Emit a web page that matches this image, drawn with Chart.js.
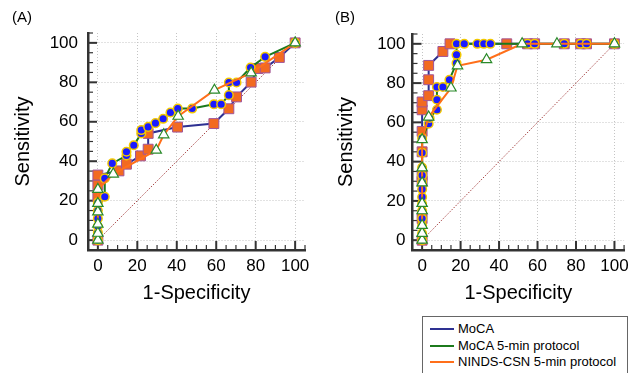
<!DOCTYPE html>
<html>
<head>
<meta charset="utf-8">
<script src="https://cdn.jsdelivr.net/npm/chart.js@4/dist/chart.umd.min.js"></script>
<style>
  body { margin: 0; width: 635px; height: 373px; background: #fff; position: relative; overflow: hidden;
         font-family: "Liberation Sans", Arial, sans-serif; }
  canvas { position: absolute; top: 0; }
  .plab { position: absolute; font-size: 15px; line-height: 15px; color: #000; }
  #legend { position: absolute; left: 422px; top: 316px; width: 206px; height: 64px;
            border: 1px solid #666; box-sizing: border-box; }
  .row { position: absolute; left: 0; height: 16px; font-size: 13px; line-height: 16px; }
  .row i { position: absolute; left: 7px; top: 7px; width: 24px; height: 2px; }
  .row span { position: absolute; left: 35px; top: 0; white-space: nowrap; }
</style>
</head>
<body>
<canvas id="chartA" width="320" height="310" style="left:0"></canvas>
<canvas id="chartB" width="315" height="310" style="left:320px"></canvas>
<div class="plab" style="left:12px;top:9px">(A)</div>
<div class="plab" style="left:335px;top:9px">(B)</div>
<div id="legend"></div>
<script>
// (A) - 1-Specificity (x) and Sensitivity (y), in %
const mocaA_x = [0, 0, 0, 0, 10.7, 14.5, 21.6, 25.5, 25.5, 40.4, 58.8, 66.4, 70.3, 77.7, 81.1, 84.8, 92.0, 100];
const mocaA_y = [0, 22, 28, 33, 35.1, 38.5, 42.7, 46.1, 54.1, 57.3, 59.1, 66.6, 72.6, 80.1, 87.0, 87.3, 92.6, 100];
const moca5A_x = [0, 0, 0, 0, 0, 0, 3.5, 3.5, 7.3, 14.5, 14.5, 18.2, 22, 22, 25.5, 29.2, 33.1, 36.8, 40.5, 47.8, 58.8, 62.5, 66.4, 66.4, 70.3, 77.4, 84.8, 100];
const moca5A_y = [0, 4, 7, 11, 15, 19, 22, 31.3, 38.9, 42.9, 44.8, 48.1, 54.1, 55.8, 57.4, 59.3, 61.5, 64.7, 66.7, 66.7, 68.9, 68.9, 73.5, 79.9, 79.9, 87.5, 92.9, 100];
const nindsA_x = [0, 0, 0, 0, 0, 0, 7.8, 29.6, 33.4, 40.7, 59.1, 77.7, 100];
const nindsA_y = [0, 3.5, 8.1, 14.3, 18.6, 25.7, 33.5, 45.6, 53.4, 62.8, 76, 84.8, 100];

// (B)
const mocaB_x = [0, 0, 0, 0, 0, 0, 0, 0, 3.4, 3.4, 3.4, 10.8, 14.5, 44, 54.8, 58.5, 73.9, 82.4, 85.5, 100];
const mocaB_y = [0, 11, 30, 33, 45, 55.4, 66.4, 70.4, 73.6, 81.7, 89, 96.1, 100, 100, 100, 100, 100, 100, 100, 100];
const moca5B_x = [0, 0, 0, 0, 0, 0, 0, 0, 0, 0, 0, 0, 0, 3.4, 3.9, 7.7, 7.7, 7.7, 10.8, 14.2, 17.9, 17.9, 17.9, 21.9, 28.7, 32.1, 35.5, 54.8, 58.5, 73.9, 82.4, 85.5, 100];
const moca5B_y = [0, 3.5, 7.5, 11, 15, 18.5, 22, 26, 30, 33, 37, 44.5, 52, 59.3, 62.2, 66.4, 71.5, 78, 78, 81.7, 90.2, 94.4, 100, 100, 100, 100, 100, 100, 100, 100, 100, 100, 100];
const nindsB_x = [0, 0, 0, 0, 0, 0, 0, 0, 3.4, 15, 18.4, 33.5, 52, 70.1, 100];
const nindsB_y = [0, 3.5, 7.5, 15, 18.7, 29.2, 36.8, 51.2, 62.7, 77.5, 88.8, 91.9, 100, 100, 100];

const tickVals = [0, 20, 40, 60, 80, 100];
const seriesNames = ['MoCA', 'MoCA 5-min protocol', 'NINDS-CSN 5-min protocol'];
const lineColors = ['#2e3192', '#1c7a1c', '#ff6f1a'];

Chart.defaults.font.family = '"Liberation Sans", Arial, sans-serif';

const pts = (xs, ys) => xs.map((x, i) => ({ x: x, y: ys[i] }));

// tick marks drawn inward from the axis lines, minor every 5
const innerTicks = {
  id: 'innerTicks',
  beforeDatasetsDraw(chart) {
    const { ctx, chartArea } = chart;
    const xs = chart.scales.x, ys = chart.scales.y;
    ctx.save();
    ctx.strokeStyle = '#333';
    for (let v = -5; v <= 105; v += 5) {
      const major = v % 20 === 0;
      const len = major ? 9 : 5;
      ctx.lineWidth = major ? 2 : 1.2;
      const px = xs.getPixelForValue(v);
      ctx.beginPath();
      ctx.moveTo(px, chartArea.bottom);
      ctx.lineTo(px, chartArea.bottom - len);
      ctx.stroke();
      const py = ys.getPixelForValue(v);
      ctx.beginPath();
      ctx.moveTo(chartArea.left, py);
      ctx.lineTo(chartArea.left + len, py);
      ctx.stroke();
    }
    ctx.restore();
  }
};

function rocChart(id, moca, moca5, ninds, box) {
  return new Chart(document.getElementById(id), {
    type: 'scatter',
    data: {
      datasets: [
        {
          label: seriesNames[2], data: ninds, order: 1, showLine: true,
          borderColor: lineColors[2], borderWidth: 2,
          pointStyle: 'triangle', pointRadius: 6, pointBackgroundColor: '#fff',
          pointBorderColor: '#2a8a2a', pointBorderWidth: 1.2
        },
        {
          label: seriesNames[1], data: moca5, order: 2, showLine: true,
          borderColor: lineColors[1], borderWidth: 2,
          pointStyle: 'circle', pointRadius: 4.3, pointBackgroundColor: '#1a1aff',
          pointBorderColor: '#f2c800', pointBorderWidth: 1.5
        },
        {
          label: seriesNames[0], data: moca, order: 3, showLine: true,
          borderColor: lineColors[0], borderWidth: 2,
          pointStyle: 'rect', pointRadius: 7, pointBackgroundColor: '#f26a21',
          pointBorderColor: '#a0559a', pointBorderWidth: 1
        },
        {
          label: 'ref', data: [{ x: 0, y: 0 }, { x: 100, y: 100 }], order: 4, showLine: true,
          borderColor: '#a84848', borderWidth: 1, borderDash: [1.5, 1.5], pointRadius: 0
        }
      ]
    },
    options: {
      responsive: false,
      animation: false,
      layout: { padding: { left: 0, top: box.top, right: box.right, bottom: 0 } },
      plugins: { legend: { display: false }, tooltip: { enabled: false } },
      scales: {
        x: {
          type: 'linear', min: -5, max: 105,
          afterBuildTicks: s => { s.ticks = tickVals.map(v => ({ value: v })); },
          afterFit: s => { s.height = 60; },
          grid: { color: '#c4c4c4', lineWidth: 1, drawTicks: false },
          border: { color: '#333', width: 2.5, dash: [1, 2] },
          ticks: { padding: 6, color: '#000', font: { size: 17 } },
          title: { display: true, text: '1-Specificity', color: '#000', font: { size: 20 }, padding: { top: 0, bottom: 5 } }
        },
        y: {
          type: 'linear', min: -5, max: 105,
          afterBuildTicks: s => { s.ticks = tickVals.map(v => ({ value: v })); },
          afterFit: s => { s.width = box.left; },
          grid: { color: '#c4c4c4', lineWidth: 1, drawTicks: false },
          border: { color: '#333', width: 2.5, dash: [1, 2] },
          ticks: { padding: box.labelPad, color: '#000', font: { size: 17 } },
          title: { display: true, text: 'Sensitivity', color: '#000', font: { size: 20 }, padding: { top: box.titlePad, bottom: 0 } }
        }
      }
    },
    plugins: [innerTicks]
  });
}

rocChart('chartA', pts(mocaA_x, mocaA_y), pts(moca5A_x, moca5A_y), pts(nindsA_x, nindsA_y),
  { left: 88, top: 33, right: 15, labelPad: 10, titlePad: 11 });
rocChart('chartB', pts(mocaB_x, mocaB_y), pts(moca5B_x, moca5B_y), pts(nindsB_x, nindsB_y),
  { left: 92.5, top: 34, right: 8, labelPad: 7, titlePad: 14 });

const legend = document.getElementById('legend');
seriesNames.forEach((name, i) => {
  const row = document.createElement('div');
  row.className = 'row';
  row.style.top = (4 + i * 16.5) + 'px';
  row.innerHTML = `<i style="background:${lineColors[i]}"></i><span>${name}</span>`;
  legend.appendChild(row);
});
</script>
</body>
</html>
